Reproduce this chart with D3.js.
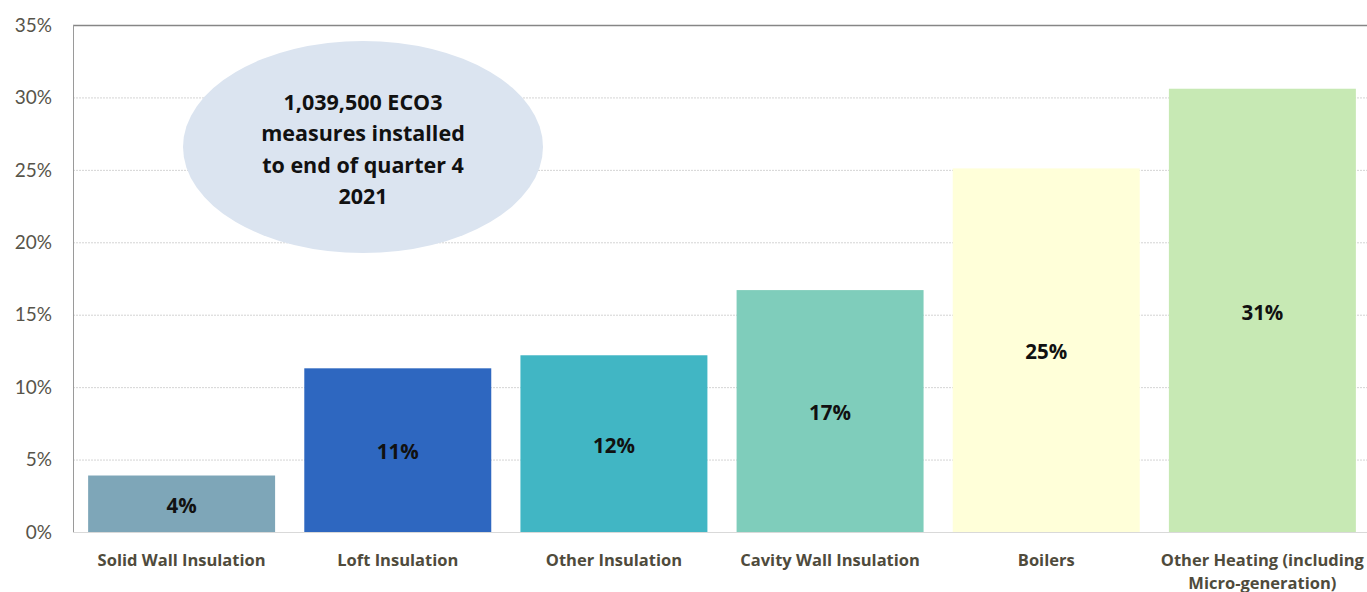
<!DOCTYPE html>
<meta charset="utf-8">
<script src="https://d3js.org/d3.v7.min.js"></script>
<style>
  body { margin: 0; background: #fff; }
  text { font-family: Lato, "Open Sans", sans-serif; }
  .bold { font-family: "Open Sans", Lato, sans-serif; font-weight: bold; }
</style>
<div id="my_dataviz"></div>
<script>

  // data
  var categories = ["Solid Wall Insulation", "Loft Insulation", "Other Insulation",
                    "Cavity Wall Insulation", "Boilers", "Other Heating (including|Micro-generation)"];
  var shares = [3.9, 11.3, 12.2, 16.7, 25.1, 30.6];
  var barLabels = ["4%", "11%", "12%", "17%", "25%", "31%"];
  var barColors = ["#7ea6b8", "#2e67c0", "#41b6c4", "#7fcdbb", "#ffffd9", "#c7e9b4"];
  var yTicks = [0, 5, 10, 15, 20, 25, 30, 35];
  var noteLines = ["1,039,500 ECO3", "measures installed", "to end of quarter 4", "2021"];

  var W = 1367, H = 592;
  var margin = {top: 25, left: 73, bottom: 60};
  var plotRight = 1371;

  var svg = d3.select("#my_dataviz")
    .append("svg")
      .attr("width", W)
      .attr("height", H);

  var x = d3.scaleBand()
    .domain(categories)
    .range([margin.left, plotRight])
    .paddingInner(0.135)
    .paddingOuter(0.07);

  var y = d3.scaleLinear()
    .domain([0, 35])
    .range([532, margin.top]);

  // gridlines
  svg.append("g")
    .selectAll("line")
    .data(yTicks.filter(function(d) { return d > 0 && d < 35; }))
    .enter().append("line")
      .attr("x1", margin.left).attr("x2", plotRight)
      .attr("y1", function(d) { return y(d) + 0.5; })
      .attr("y2", function(d) { return y(d) + 0.5; })
      .attr("stroke", "#d4d4d4")
      .attr("stroke-dasharray", "2,1");

  // frame: top and left
  svg.append("line")
    .attr("x1", margin.left).attr("x2", plotRight)
    .attr("y1", y(35) + 0.5).attr("y2", y(35) + 0.5)
    .attr("stroke", "#868686").attr("stroke-width", 1.3);
  svg.append("line")
    .attr("x1", margin.left + 0.5).attr("x2", margin.left + 0.5)
    .attr("y1", y(35)).attr("y2", y(0))
    .attr("stroke", "#9a9a9a");
  svg.append("line")
    .attr("x1", margin.left).attr("x2", plotRight)
    .attr("y1", y(0) + 0.5).attr("y2", y(0) + 0.5)
    .attr("stroke", "#d9d9d9");

  // y tick labels
  svg.append("g")
    .selectAll("text")
    .data(yTicks)
    .enter().append("text")
      .attr("x", 52)
      .attr("y", function(d) { return y(d); })
      .attr("dy", "0.35em")
      .attr("text-anchor", "end")
      .attr("font-size", 19)
      .attr("fill", "#57544a")
      .text(function(d) { return d + "%"; });

  // bars
  svg.append("g")
    .selectAll("rect")
    .data(categories)
    .enter().append("rect")
      .attr("x", function(d) { return x(d); })
      .attr("y", function(d, i) { return y(shares[i]); })
      .attr("width", x.bandwidth())
      .attr("height", function(d, i) { return y(0) - y(shares[i]); })
      .attr("fill", function(d, i) { return barColors[i]; });

  // bar value labels
  svg.append("g")
    .selectAll("text")
    .data(categories)
    .enter().append("text")
      .attr("class", "bold")
      .attr("x", function(d) { return x(d) + x.bandwidth() / 2; })
      .attr("y", function(d, i) { return (y(shares[i]) + y(0)) / 2 + 2; })
      .attr("dy", "0.35em")
      .attr("text-anchor", "middle")
      .attr("font-size", 20.5)
      .attr("fill", "#111")
      .text(function(d, i) { return barLabels[i]; });

  // category labels
  var cat = svg.append("g")
    .selectAll("text")
    .data(categories)
    .enter().append("text")
      .attr("class", "bold")
      .attr("x", function(d) { return x(d) + x.bandwidth() / 2; })
      .attr("y", 566)
      .attr("text-anchor", "middle")
      .attr("font-size", 16.5)
      .attr("fill", "#4f4b3c");
  cat.each(function(d) {
    var parts = d.split("|");
    var t = d3.select(this);
    parts.forEach(function(p, j) {
      t.append("tspan")
        .attr("x", t.attr("x"))
        .attr("dy", j === 0 ? 0 : 23)
        .text(p);
    });
  });

  // callout ellipse
  svg.append("ellipse")
    .attr("cx", 363).attr("cy", 147)
    .attr("rx", 180).attr("ry", 106)
    .attr("fill", "#dbe4f0");

  svg.append("g")
    .selectAll("text")
    .data(noteLines)
    .enter().append("text")
      .attr("class", "bold")
      .attr("x", 363)
      .attr("y", function(d, i) { return 102 + i * 31.5; })
      .attr("dy", "0.35em")
      .attr("text-anchor", "middle")
      .attr("font-size", 21.5)
      .attr("fill", "#111")
      .text(function(d) { return d; });

</script>
